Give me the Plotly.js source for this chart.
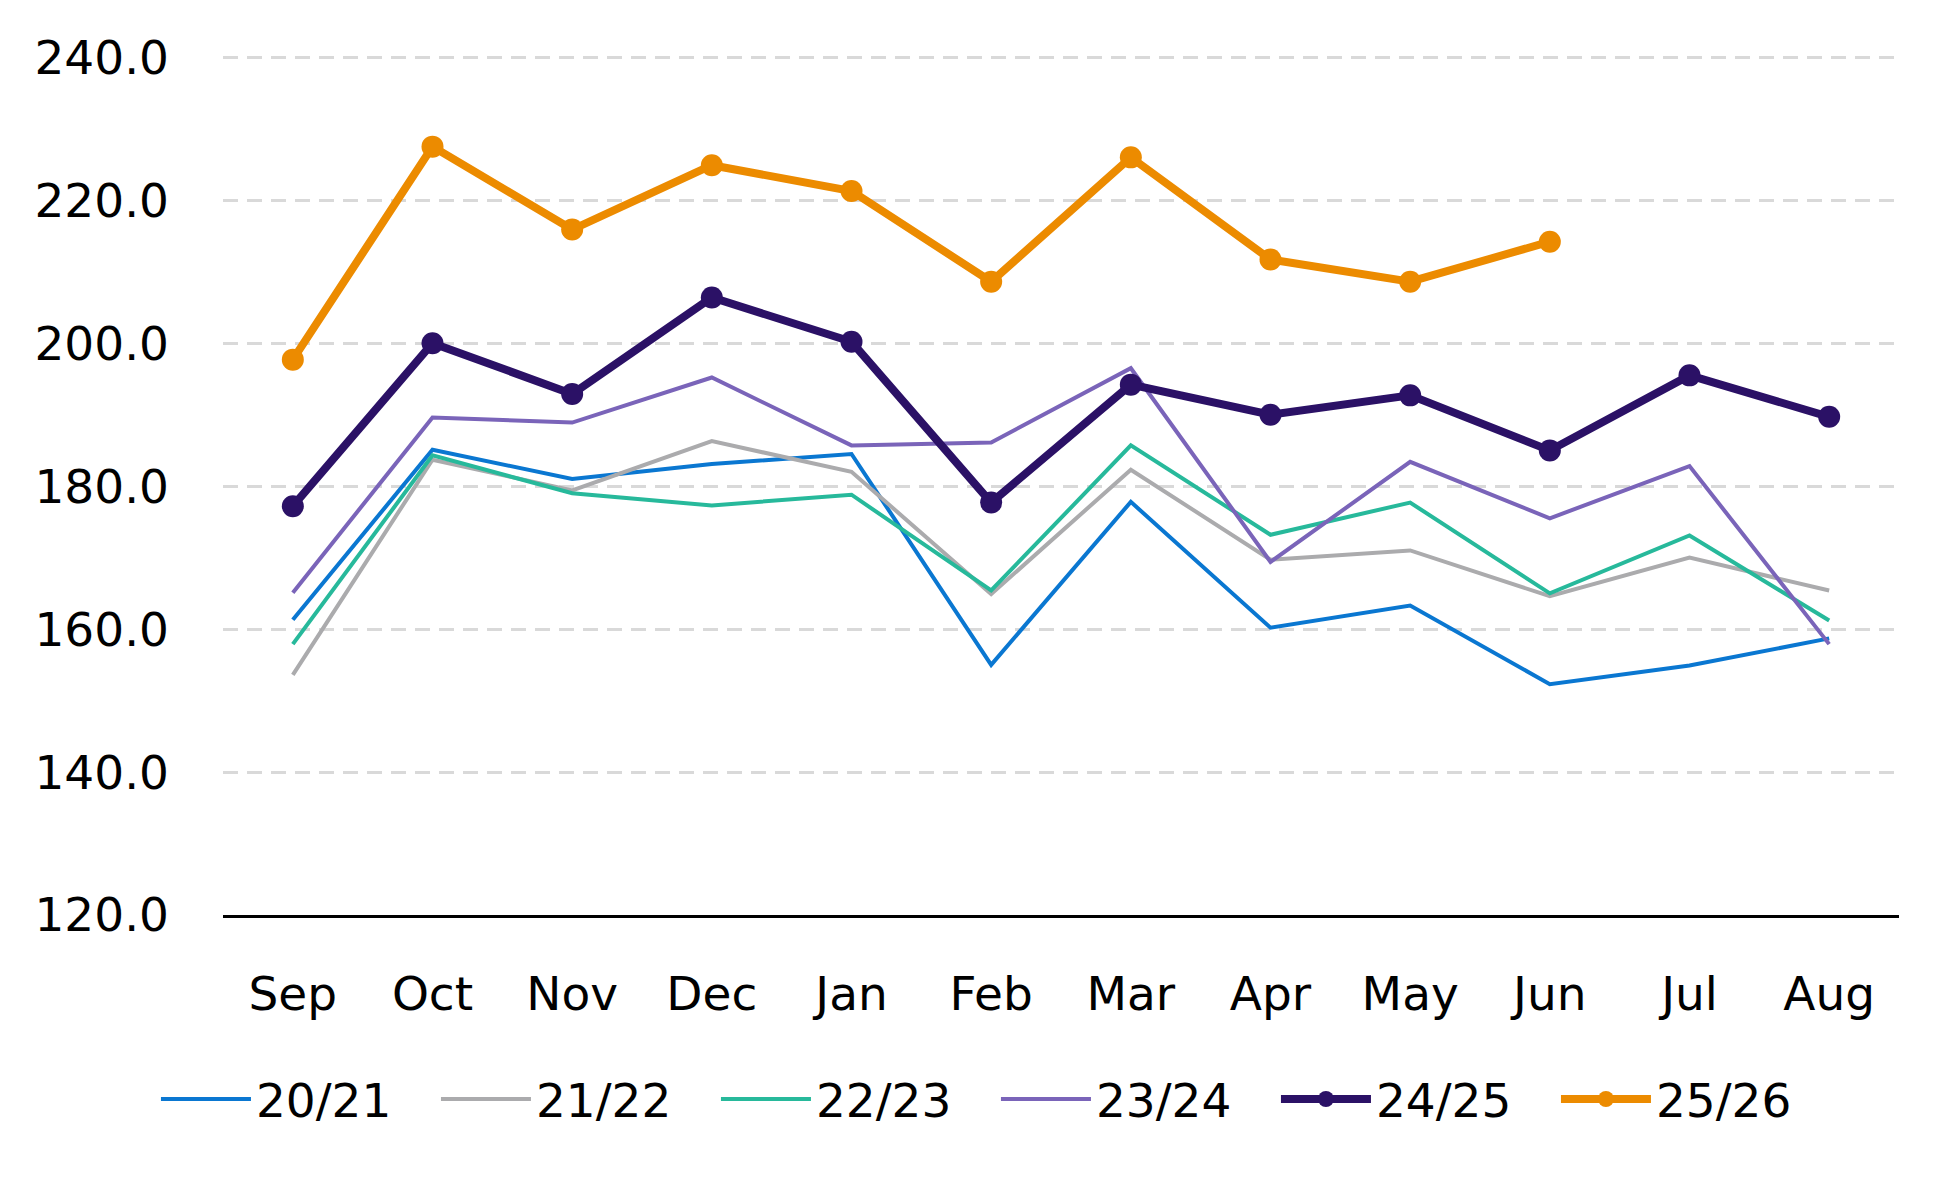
<!DOCTYPE html>
<html>
<head>
<meta charset="utf-8">
<script src="https://cdn.plot.ly/plotly-3.0.1.min.js"></script>
<style>
  html, body { margin: 0; padding: 0; background: #ffffff; }
  #chart { width: 1949px; height: 1177px; }
</style>
</head>
<body>
<div id="chart"></div>
<script>
// months of the marketing year
var months = ['Sep', 'Oct', 'Nov', 'Dec', 'Jan', 'Feb', 'Mar', 'Apr', 'May', 'Jun', 'Jul', 'Aug'];

// values per season
var s2021 = [161.3, 185.1, 181.0, 183.1, 184.5, 155.0, 177.8, 160.2, 163.3, 152.3, 154.9, 158.7];
var s2122 = [153.6, 183.7, 179.4, 186.3, 182.0, 164.9, 182.3, 169.7, 171.0, 164.6, 170.0, 165.4];
var s2223 = [157.9, 184.3, 179.0, 177.3, 178.8, 165.4, 185.7, 173.2, 177.7, 165.0, 173.1, 161.2];
var s2324 = [165.1, 189.6, 188.9, 195.2, 185.7, 186.1, 196.5, 169.4, 183.4, 175.5, 182.8, 157.9];
var s2425 = [177.2, 200.0, 192.9, 206.4, 200.2, 177.7, 194.2, 190.0, 192.7, 185.0, 195.5, 189.7];
var s2526 = [197.7, 227.5, 215.9, 224.9, 221.3, 208.6, 226.0, 211.7, 208.6, 214.2];

var yTicks = [120, 140, 160, 180, 200, 220, 240];

var FONT = 'DejaVu Sans, Arial, sans-serif';

function thinLine(name, y, color) {
  return {
    x: months.slice(0, y.length),
    y: y,
    name: name,
    type: 'scatter',
    mode: 'lines',
    line: { color: color, width: 4 },
    hoverinfo: 'skip'
  };
}

function thickLine(name, y, color) {
  return {
    x: months.slice(0, y.length),
    y: y,
    name: name,
    type: 'scatter',
    mode: 'lines+markers',
    line: { color: color, width: 8 },
    marker: { color: color, size: 22 },
    hoverinfo: 'skip'
  };
}

var data = [
  thinLine('20/21', s2021, '#0a77d1'),
  thinLine('21/22', s2122, '#ababad'),
  thinLine('22/23', s2223, '#27b99b'),
  thinLine('23/24', s2324, '#7a64b9'),
  thickLine('24/25', s2425, '#2b1166'),
  thickLine('25/26', s2526, '#ec8b00')
];

var layout = {
  width: 1949,
  height: 1177,
  margin: { l: 223, r: 50, t: 53, b: 262, pad: 0 },
  paper_bgcolor: '#ffffff',
  plot_bgcolor: '#ffffff',
  font: { family: FONT, size: 47, color: '#000000' },
  showlegend: true,
  xaxis: {
    type: 'category',
    range: [-0.5, 11.5],
    showgrid: false,
    zeroline: false,
    showline: true,
    linecolor: '#000000',
    linewidth: 3,
    ticks: '',
    ticklabelstandoff: 36,
    tickfont: { family: FONT, size: 47, color: '#000000' }
  },
  yaxis: {
    range: [120, 240.6],
    tickvals: yTicks,
    ticktext: yTicks.map(function (v) { return v.toFixed(1); }),
    showgrid: true,
    gridcolor: '#d9d9d9',
    gridwidth: 3,
    griddash: '15px,9px',
    zeroline: false,
    showline: false,
    ticks: '',
    ticklabelstandoff: 53,
    tickfont: { family: FONT, size: 47, color: '#000000' }
  },
  legend: {
    orientation: 'h',
    x: -0.04,
    xanchor: 'left',
    y: -0.214,
    yanchor: 'middle',
    font: { family: FONT, size: 47, color: '#000000' },
    itemwidth: 90,
    entrywidth: 175,
    entrywidthmode: 'pixels',
    bgcolor: 'rgba(0,0,0,0)'
  }
};

Plotly.newPlot('chart', data, layout, { displayModeBar: false, staticPlot: true });
</script>
</body>
</html>
